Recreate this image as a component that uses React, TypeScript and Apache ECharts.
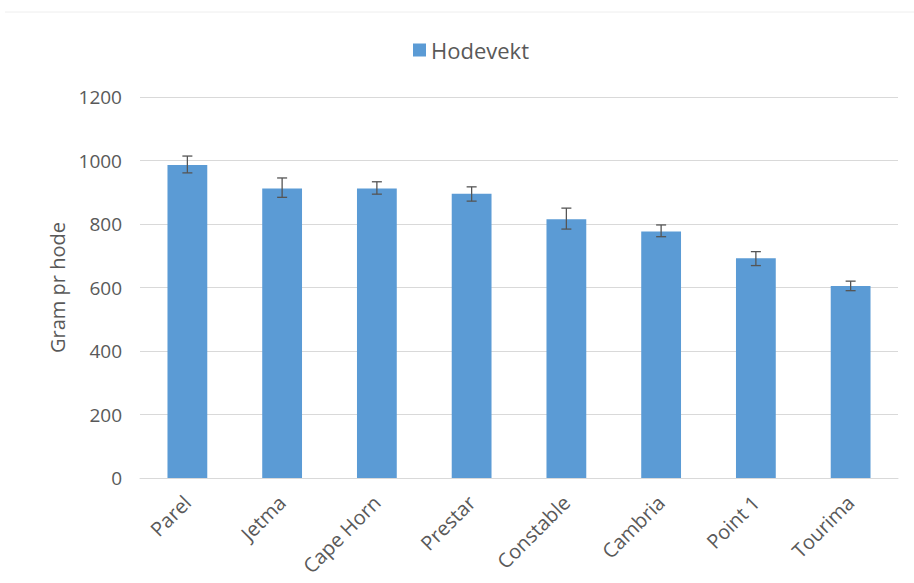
import React, { useEffect, useRef } from "react";
import * as echarts from "echarts";

const categories = ["Parel", "Jetma", "Cape Horn", "Prestar", "Constable", "Cambria", "Point 1", "Tourima"];
const values = [986, 912, 912, 895, 815, 776, 692, 605];
const errLow = [961, 884, 894, 872, 784, 760, 669, 590];
const errHigh = [1014, 945, 933, 917, 850, 797, 713, 620];
const seriesName = "Hodevekt";
const yTicks = { min: 0, max: 1200, interval: 200 };

export default function App() {
  const ref = useRef<HTMLDivElement>(null);
  useEffect(() => {
    if (!ref.current) return;
    const chart = echarts.init(ref.current, null, { renderer: "svg" });
    const font = "Open Sans";
    const grey = "#595959";
    chart.setOption({
      animation: false,
      backgroundColor: "#ffffff",
      textStyle: { fontFamily: font },
      graphic: [
        {
          type: "line",
          shape: { x1: 5, y1: 12, x2: 914, y2: 12 },
          style: { stroke: "#eeeeee", lineWidth: 1 },
        },
      ],
      legend: {
        top: 34,
        left: 408,
        itemWidth: 13,
        itemHeight: 13,
        itemGap: 8,
        data: [seriesName],
        textStyle: { color: grey, fontSize: 22, fontFamily: font },
        icon: "rect",
      },
      grid: { left: 140, right: 16, top: 97, bottom: 105, containLabel: false },
      xAxis: {
        type: "category",
        data: categories,
        axisLine: { lineStyle: { color: "#d9d9d9", width: 1 } },
        axisTick: { show: false },
        axisLabel: { rotate: 45, color: grey, fontSize: 20, fontFamily: font, margin: 21, interval: 0 },
      },
      yAxis: {
        type: "value",
        min: yTicks.min,
        max: yTicks.max,
        interval: yTicks.interval,
        name: "Gram pr hode",
        nameLocation: "middle",
        nameGap: 70,
        nameRotate: 90,
        nameTextStyle: { color: grey, fontSize: 20, fontFamily: font },
        axisLine: { show: false },
        axisTick: { show: false },
        axisLabel: {
          color: grey,
          fontSize: 19,
          fontFamily: font,
          margin: 18,
          formatter: (v: number) => String(v),
        },
        splitLine: { lineStyle: { color: "#d9d9d9", width: 1 } },
      },
      series: [
        {
          name: seriesName,
          type: "bar",
          data: values,
          barWidth: "42%",
          itemStyle: { color: "#5b9bd5" },
        },
        {
          type: "custom",
          name: "err",
          data: categories.map((_, i) => [i, errLow[i], errHigh[i]]),
          z: 10,
          renderItem: (params: any, api: any) => {
            const x = api.value(0);
            const lo = api.coord([x, api.value(1)]);
            const hi = api.coord([x, api.value(2)]);
            const hw = 5;
            const style = { stroke: "#555555", lineWidth: 1.3, fill: "none" };
            return {
              type: "group",
              children: [
                { type: "line", shape: { x1: lo[0], y1: lo[1], x2: hi[0], y2: hi[1] }, style },
                { type: "line", shape: { x1: hi[0] - hw, y1: hi[1], x2: hi[0] + hw, y2: hi[1] }, style },
                { type: "line", shape: { x1: lo[0] - hw, y1: lo[1], x2: lo[0] + hw, y2: lo[1] }, style },
              ],
            };
          },
        },
      ],
    });
    return () => chart.dispose();
  }, []);
  return (
    <div
      ref={ref}
      style={{ position: "absolute", left: 0, top: 0, width: 914, height: 583 }}
    />
  );
}
